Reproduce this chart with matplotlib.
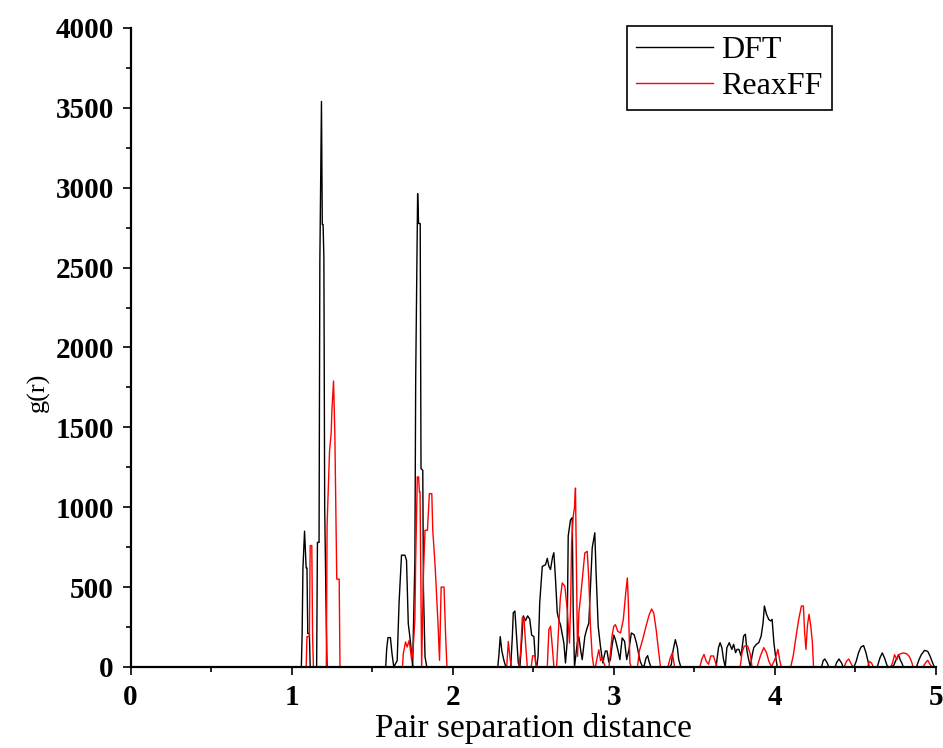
import matplotlib
matplotlib.use('Agg')
import matplotlib.pyplot as plt
from matplotlib.ticker import MultipleLocator

plt.rcParams['font.family'] = ['Liberation Serif', 'DejaVu Serif']

# radial distribution as (r, g) points
dft_points = [
    (0.0, 0), (1.06, 0), (1.065, 210), (1.07, 620), (1.08, 850), (1.09, 620), (1.095, 620),
    (1.10, 210), (1.11, 210), (1.115, 0),
    (1.155, 0), (1.16, 780), (1.17, 780), (1.175, 2540), (1.185, 3540), (1.19, 2770),
    (1.195, 2770), (1.20, 2560), (1.205, 1000), (1.215, 270), (1.22, 0),
    (1.584, 0), (1.59, 115), (1.598, 184), (1.613, 184), (1.623, 83), (1.634, 0), (1.655, 40),
    (1.667, 407), (1.682, 700), (1.703, 700), (1.713, 668), (1.724, 271), (1.734, 188),
    (1.745, 83), (1.751, 0), (1.761, 480), (1.765, 668), (1.77, 1805), (1.782, 2963),
    (1.788, 2776), (1.798, 2776), (1.803, 1242), (1.814, 1231), (1.818, 490), (1.828, 63),
    (1.839, 0),
    (2.28, 0), (2.287, 80), (2.295, 190), (2.305, 100), (2.318, 40), (2.33, 0), (2.36, 0),
    (2.37, 190), (2.376, 340), (2.386, 350), (2.396, 190), (2.407, 25), (2.417, 0),
    (2.43, 190), (2.438, 320), (2.452, 290), (2.465, 320), (2.478, 300), (2.49, 200),
    (2.504, 190), (2.514, 30), (2.522, 0), (2.53, 70), (2.54, 400), (2.556, 630),
    (2.576, 640), (2.587, 680), (2.597, 630), (2.607, 610), (2.62, 690), (2.628, 715),
    (2.638, 550), (2.649, 340), (2.66, 290), (2.669, 265), (2.69, 150), (2.70, 25),
    (2.71, 150), (2.717, 820), (2.731, 920), (2.742, 935), (2.748, 340), (2.756, 0),
    (2.765, 80), (2.773, 150), (2.783, 190), (2.795, 100), (2.804, 46), (2.812, 120),
    (2.82, 190), (2.833, 240), (2.845, 275), (2.855, 500), (2.866, 745), (2.875, 800),
    (2.882, 840), (2.89, 590), (2.903, 255), (2.917, 130), (2.932, 25), (2.94, 67),
    (2.948, 100), (2.958, 100), (2.969, 30), (2.979, 46), (2.99, 140), (3.0, 200),
    (3.01, 171), (3.025, 108), (3.038, 46), (3.052, 182), (3.067, 161), (3.08, 46),
    (3.094, 108), (3.109, 213), (3.126, 202), (3.141, 150), (3.153, 88), (3.164, 35),
    (3.179, 0), (3.189, 10), (3.2, 56), (3.21, 71), (3.22, 30), (3.231, 0),
    (3.346, 0), (3.357, 15), (3.367, 98), (3.382, 171), (3.395, 119), (3.403, 46), (3.416, 0),
    (3.635, 0), (3.65, 121), (3.66, 152), (3.671, 121), (3.681, 48), (3.692, 0), (3.702, 121),
    (3.717, 152), (3.733, 110), (3.744, 142), (3.756, 90), (3.765, 110), (3.777, 110),
    (3.79, 69), (3.806, 194), (3.817, 205), (3.827, 100), (3.837, 48), (3.848, 0),
    (3.858, 69), (3.869, 121), (3.885, 142), (3.9, 152), (3.915, 194), (3.927, 278),
    (3.935, 382), (3.948, 330), (3.962, 298), (3.973, 288), (3.983, 298), (3.994, 152),
    (4.004, 69), (4.015, 0),
    (4.29, 0), (4.30, 40), (4.31, 50), (4.325, 25), (4.335, 0),
    (4.374, 0), (4.384, 29), (4.398, 50), (4.414, 25), (4.424, 0),
    (4.491, 0), (4.505, 35), (4.519, 88), (4.535, 125), (4.551, 134), (4.566, 88),
    (4.576, 46), (4.586, 0),
    (4.636, 0), (4.652, 56), (4.667, 88), (4.681, 56), (4.697, 8), (4.707, 0),
    (4.737, 8), (4.753, 46), (4.768, 77), (4.778, 46), (4.788, 25), (4.798, 0),
    (4.879, 0), (4.895, 46), (4.909, 77), (4.929, 104), (4.949, 98), (4.964, 67),
    (4.976, 35), (4.99, 0), (5.0, 0),
]

reaxff_points = [
    (0.0, 0), (1.09, 0), (1.095, 190), (1.11, 190), (1.115, 760), (1.125, 760), (1.13, 190),
    (1.135, 0),
    (1.215, 0), (1.22, 890), (1.235, 1350), (1.245, 1460), (1.25, 1610), (1.26, 1790),
    (1.268, 1460), (1.28, 550), (1.295, 550), (1.30, 0),
    (1.688, 0), (1.693, 83), (1.707, 157), (1.717, 125), (1.73, 167), (1.745, 42),
    (1.755, 125), (1.765, 300), (1.77, 668), (1.78, 1190), (1.788, 1190), (1.793, 1096),
    (1.797, 1096), (1.807, 0), (1.818, 584), (1.828, 856), (1.843, 856), (1.855, 1085),
    (1.87, 1085), (1.876, 856), (1.891, 626), (1.908, 282), (1.918, 42), (1.928, 500),
    (1.946, 500), (1.955, 219), (1.964, 0),
    (2.335, 0), (2.345, 160), (2.355, 60), (2.365, 0), (2.41, 0), (2.421, 90), (2.432, 310),
    (2.442, 310), (2.452, 150), (2.463, 0), (2.487, 0), (2.496, 70), (2.51, 70), (2.52, 0),
    (2.587, 0), (2.597, 234), (2.607, 255), (2.618, 130), (2.628, 0), (2.645, 0),
    (2.659, 275), (2.668, 430), (2.68, 526), (2.696, 505), (2.711, 359), (2.725, 150),
    (2.732, 400), (2.738, 776), (2.748, 943), (2.756, 1000), (2.762, 1120), (2.767, 735),
    (2.775, 67), (2.783, 338), (2.795, 450), (2.804, 547), (2.812, 640), (2.82, 714),
    (2.835, 724), (2.845, 547), (2.855, 255), (2.866, 67), (2.876, 0), (2.886, 0),
    (2.897, 60), (2.907, 108), (2.918, 40), (2.928, 56), (2.94, 20), (2.948, 0),
    (2.97, 0), (2.98, 100), (2.99, 200), (3.0, 255), (3.01, 265), (3.025, 223),
    (3.042, 213), (3.059, 296), (3.074, 463), (3.084, 557), (3.09, 411), (3.1, 25),
    (3.109, 0), (3.147, 0), (3.158, 98), (3.179, 171), (3.2, 255), (3.22, 328),
    (3.235, 363), (3.248, 338), (3.263, 234), (3.277, 108), (3.29, 0), (3.336, 0),
    (3.35, 56), (3.363, 88), (3.378, 0),
    (3.535, 0), (3.546, 48), (3.56, 79), (3.573, 38), (3.588, 17), (3.602, 69), (3.619, 69),
    (3.635, 17), (3.644, 0), (3.785, 0), (3.796, 90), (3.81, 131), (3.831, 131), (3.848, 79),
    (3.858, 0), (3.89, 0), (3.91, 69), (3.931, 121), (3.948, 90), (3.962, 38), (3.979, 0),
    (4.004, 58), (4.019, 110), (4.031, 38), (4.04, 0), (4.098, 0), (4.114, 69),
    (4.135, 215), (4.15, 309), (4.165, 382), (4.177, 382), (4.185, 215), (4.193, 110),
    (4.202, 257), (4.212, 330), (4.223, 257), (4.233, 152), (4.24, 0),
    (4.43, 0), (4.444, 35), (4.459, 50), (4.471, 25), (4.485, 0), (4.576, 0), (4.586, 35),
    (4.6, 25), (4.612, 0), (4.721, 0), (4.733, 35), (4.743, 77), (4.758, 46), (4.768, 77),
    (4.782, 83), (4.798, 88), (4.818, 83), (4.834, 67), (4.848, 35), (4.859, 0),
    (4.919, 0), (4.935, 25), (4.949, 42), (4.964, 15), (4.976, 0), (5.0, 0),
]

dft_r, dft_g = zip(*dft_points)
reax_r, reax_g = zip(*reaxff_points)

fig = plt.figure(figsize=(9.43, 7.48), dpi=100)
ax = fig.add_axes([0.1385, 0.1083, 0.854, 0.8543])

ax.plot(dft_r, dft_g, color='black', lw=1.0, label='DFT')
ax.plot(reax_r, reax_g, color='red', lw=1.0, label='ReaxFF')

ax.set_xlim(0, 5)
ax.set_ylim(0, 4000)
ax.xaxis.set_major_locator(MultipleLocator(1))
ax.xaxis.set_minor_locator(MultipleLocator(0.5))
ax.yaxis.set_major_locator(MultipleLocator(500))
ax.yaxis.set_minor_locator(MultipleLocator(250))

ax.spines['top'].set_visible(False)
ax.spines['right'].set_visible(False)
for s in ['left', 'bottom']:
    ax.spines[s].set_linewidth(1.6)
    ax.spines[s].set_zorder(3)

ax.tick_params(which='major', direction='out', length=6, width=1.2, labelsize=21, pad=6)
ax.tick_params(which='minor', direction='out', length=3.5, width=1.2)
for lab in ax.get_xticklabels() + ax.get_yticklabels():
    lab.set_fontweight('bold')

ax.set_xlabel('Pair separation distance', fontsize=24, labelpad=2)
ax.set_ylabel('g(r)', fontsize=19)
ax.yaxis.set_label_coords(-0.10, 0.43)

leg = ax.legend(loc='upper left', bbox_to_anchor=(0.616, 1.003), fontsize=23,
                frameon=True, fancybox=False, framealpha=1, edgecolor='black',
                handlelength=2.4, handletextpad=0.25, labelspacing=0.2,
                borderpad=0.3, borderaxespad=0)
leg.get_frame().set_linewidth(1.2)

fig.savefig('out.png', dpi=100)
